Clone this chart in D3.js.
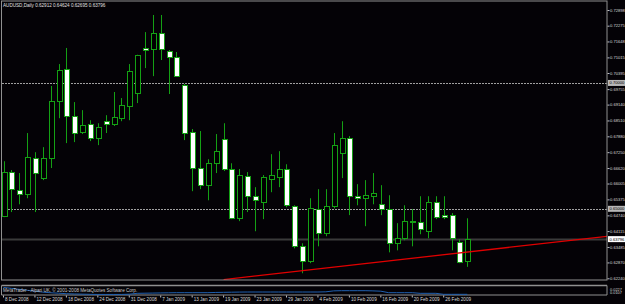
<!DOCTYPE html>
<html>
<head>
<meta charset="utf-8">
<script src="https://cdn.jsdelivr.net/npm/d3@7"></script>
<style>
  body { margin: 0; background: #000; }
  svg { display: block; }
  text { font-family: "Liberation Sans", Arial, sans-serif; }
</style>
</head>
<body>
<div id="chart"></div>
<script>
// AUDUSD daily bars, 8 Dec 2008 .. 3 Mar 2009
let barOpen = [0.6471, 0.6646, 0.6574, 0.6558, 0.6701, 0.6622, 0.6701, 0.6928, 0.7055, 0.6868,
  0.6805, 0.6837, 0.6781, 0.6848, 0.6837, 0.6860, 0.6908, 0.6960, 0.7139, 0.7135,
  0.7198, 0.7127, 0.7103, 0.6992, 0.6805, 0.6662, 0.6594, 0.6681, 0.6777, 0.6658,
  0.6463, 0.6630, 0.6550, 0.6526, 0.6618, 0.6626, 0.6658, 0.6510, 0.6351, 0.6292,
  0.6498, 0.6403, 0.6510, 0.6721, 0.6781, 0.6550, 0.6542, 0.6550, 0.6518, 0.6498,
  0.6363, 0.6383, 0.6451, 0.6447, 0.6411, 0.6526, 0.6475, 0.6475, 0.6367, 0.62912];
let barHigh = [0.6689, 0.6654, 0.6642, 0.6801, 0.6725, 0.6745, 0.6988, 0.7075, 0.7139, 0.6924,
  0.6892, 0.6852, 0.6840, 0.6872, 0.6964, 0.6940, 0.7075, 0.7112, 0.7202, 0.7270,
  0.7270, 0.7131, 0.7123, 0.6996, 0.6817, 0.6809, 0.6697, 0.6797, 0.6840, 0.6681,
  0.6658, 0.6646, 0.6586, 0.6634, 0.6717, 0.6729, 0.6677, 0.6514, 0.6363, 0.6542,
  0.6578, 0.6578, 0.6801, 0.6848, 0.6789, 0.6598, 0.6614, 0.6642, 0.6594, 0.6554,
  0.6443, 0.6514, 0.6499, 0.6550, 0.6550, 0.6550, 0.6550, 0.6483, 0.6379, 0.64624];
let barLow = [0.6467, 0.6487, 0.6518, 0.6542, 0.6487, 0.6614, 0.6662, 0.6860, 0.6761, 0.6765,
  0.6797, 0.6769, 0.6753, 0.6801, 0.6829, 0.6848, 0.6852, 0.6920, 0.7059, 0.7027,
  0.7091, 0.6956, 0.7047, 0.6773, 0.6570, 0.6578, 0.6534, 0.6642, 0.6650, 0.6459,
  0.6451, 0.6487, 0.6411, 0.6459, 0.6566, 0.6586, 0.6506, 0.6343, 0.6244, 0.6284,
  0.6351, 0.6391, 0.6502, 0.6622, 0.6475, 0.6514, 0.6431, 0.6518, 0.6475, 0.6327,
  0.6335, 0.6375, 0.6351, 0.6399, 0.6383, 0.6459, 0.6459, 0.6335, 0.6284, 0.62695];
let barClose = [0.6646, 0.6578, 0.6558, 0.6705, 0.6642, 0.6701, 0.6928, 0.7051, 0.6868, 0.6801,
  0.6833, 0.6781, 0.6825, 0.6837, 0.6864, 0.6912, 0.7047, 0.7111, 0.7131, 0.7198,
  0.7135, 0.7103, 0.7027, 0.6801, 0.6662, 0.6594, 0.6681, 0.6729, 0.6658, 0.6463,
  0.6634, 0.6550, 0.6534, 0.6626, 0.6634, 0.6658, 0.6514, 0.6351, 0.6292, 0.6502,
  0.6403, 0.6510, 0.6753, 0.6781, 0.6550, 0.6542, 0.6554, 0.6562, 0.6498, 0.6363,
  0.6383, 0.6451, 0.6447, 0.6419, 0.6526, 0.6467, 0.6467, 0.6383, 0.6288, 0.63796];

// lower window indicator
let indValues = [0.0220, 0.0205, 0.0190, 0.0175, 0.0160, 0.0145, 0.0135, 0.0128, 0.0120, 0.0116,
  0.0113, 0.0110, 0.0108, 0.0108, 0.0108, 0.0108, 0.0112, 0.0126, 0.0128, 0.0130,
  0.0132, 0.0134, 0.0136, 0.0136, 0.0136, 0.0136, 0.0136, 0.0140, 0.0142, 0.0144,
  0.0146, 0.0147, 0.0147, 0.0147, 0.0147, 0.0147, 0.0147, 0.0147, 0.0147, 0.0147,
  0.0147, 0.0150, 0.0165, 0.0168, 0.0168, 0.0168, 0.0168, 0.0165, 0.0160, 0.0136,
  0.0136, 0.0136, 0.0136, 0.0126, 0.0126, 0.0126, 0.0110, 0.0110, 0.0110, 0.0110];
let indTicks = [0.0227, 0.0107];

let dateLabels = ["8 Dec 2008", "12 Dec 2008", "18 Dec 2008", "24 Dec 2008", "31 Dec 2008",
  "7 Jan 2009", "13 Jan 2009", "19 Jan 2009", "23 Jan 2009", "29 Jan 2009",
  "4 Feb 2009", "10 Feb 2009", "16 Feb 2009", "20 Feb 2009", "26 Feb 2009"];
let priceTicks = [0.72898, 0.72275, 0.71648, 0.71015, 0.70395, 0.69755, 0.69140, 0.68510,
  0.67880, 0.67250, 0.66620, 0.66005, 0.65375, 0.64740, 0.64115, 0.63485, 0.62870, 0.62240];
let levelLines = [0.70000, 0.65000];
let bidPrice = 0.63796;
let trendBars = [28, 76.8];
let trendPrices = [0.6219, 0.6391];

let w = 625;
let h = 304;
let plotLeft = 2, plotRight = 607, plotTop = 1.5, plotBottom = 280;
let green = "#14a014";
let smallFont = 4.1;

let svg = d3.select("#chart")
  .append("svg")
  .attr("width", w)
  .attr("height", h)
  .style("background", "#040206");

let xScale = d3.scaleLinear()
  .domain([0, 59])
  .range([3.5, 467.3]);
let yScale = d3.scaleLinear()
  .domain([0.62240, 0.72898])
  .range([278.3, 10]);

svg.append("clipPath").attr("id", "plot")
  .append("rect")
  .attr("x", plotLeft).attr("y", plotTop)
  .attr("width", plotRight - plotLeft).attr("height", plotBottom - plotTop);

// horizontal level lines
svg.append("g").selectAll("line")
  .data(levelLines)
  .enter().append("line")
  .attr("x1", plotLeft).attr("x2", plotRight)
  .attr("y1", d => Math.round(yScale(d)) + 0.5)
  .attr("y2", d => Math.round(yScale(d)) + 0.5)
  .attr("stroke", "#a0a0a0")
  .attr("stroke-dasharray", "2,1");

// bid line
svg.append("line")
  .attr("x1", plotLeft).attr("x2", plotRight)
  .attr("y1", Math.round(yScale(bidPrice)) + 0.5)
  .attr("y2", Math.round(yScale(bidPrice)) + 0.5)
  .attr("stroke", "#3a3a3a")
  .attr("stroke-width", 2);

let bars = d3.range(barOpen.length);
let candles = svg.append("g").attr("clip-path", "url(#plot)");

candles.selectAll(".wick")
  .data(bars)
  .enter().append("line")
  .attr("class", "wick")
  .attr("x1", i => Math.round(xScale(i)) + 0.5)
  .attr("x2", i => Math.round(xScale(i)) + 0.5)
  .attr("y1", i => yScale(barHigh[i]))
  .attr("y2", i => yScale(barLow[i]))
  .attr("stroke", green);

candles.selectAll(".body")
  .data(bars)
  .enter().append("rect")
  .attr("class", "body")
  .attr("x", i => Math.round(xScale(i)) - 2 + 0.5)
  .attr("y", i => Math.round(yScale(Math.max(barOpen[i], barClose[i]))) + 0.5)
  .attr("width", 5)
  .attr("height", i => Math.max(1, Math.round(Math.abs(yScale(barOpen[i]) - yScale(barClose[i])))))
  .attr("fill", i => barClose[i] > barOpen[i] ? "#000" : "#fff")
  .attr("stroke", green);

// trend line, extends to the right edge
candles.append("line")
  .attr("x1", xScale(trendBars[0]))
  .attr("y1", yScale(trendPrices[0]))
  .attr("x2", xScale(trendBars[1]))
  .attr("y2", yScale(trendPrices[1]))
  .attr("stroke", "#e00000")
  .attr("stroke-width", 1.3);

// frame of the main window
svg.append("rect")
  .attr("x", plotLeft - 0.5).attr("y", plotTop - 0.5)
  .attr("width", plotRight - plotLeft + 0.5).attr("height", plotBottom - plotTop + 0.5)
  .attr("fill", "none")
  .attr("stroke", "#909090");

// price axis
let yAxis = d3.axisRight(yScale)
  .tickValues(priceTicks)
  .tickFormat(d3.format(".5f"))
  .tickSize(2)
  .tickPadding(0.5);
let yAxisGroup = svg.append("g")
  .attr("transform", "translate(" + (plotRight + 0.5) + ",0)")
  .call(yAxis);
yAxisGroup.select(".domain").remove();
yAxisGroup.selectAll("line").attr("stroke", "#c0c0c0");
yAxisGroup.selectAll("text")
  .attr("fill", "#d8d8d8")
  .attr("font-size", smallFont);

// price labels for the level lines and the bid
let tags = levelLines.map(d => ({ p: d, bg: "#b8b8b8" }));
tags.push({ p: bidPrice, bg: "#ffffff" });
let tagGroup = svg.append("g").selectAll("g")
  .data(tags)
  .enter().append("g")
  .attr("transform", d => "translate(" + (plotRight + 1) + "," + yScale(d.p) + ")");
tagGroup.append("rect")
  .attr("x", 0).attr("y", -3)
  .attr("width", w - plotRight - 1).attr("height", 6)
  .attr("fill", d => d.bg);
tagGroup.append("text")
  .attr("x", 1.5).attr("y", 1.5)
  .attr("font-size", smallFont)
  .attr("fill", "#000")
  .text(d => d.p.toFixed(5));

// header
svg.append("text")
  .attr("x", 3).attr("y", 7)
  .attr("font-size", 4.6)
  .attr("fill", "#e0e0e0")
  .text("AUDUSD,Daily  " + [barOpen[59], barHigh[59], barLow[59], barClose[59]].map(d => d.toFixed(5)).join(" "));

// indicator window
let indTop = 285.5, indBottom = 295;
svg.append("line")
  .attr("x1", plotLeft - 0.5).attr("x2", plotRight)
  .attr("y1", indTop).attr("y2", indTop)
  .attr("stroke", "#909090").attr("stroke-width", 1.5);
svg.append("line")
  .attr("x1", plotLeft - 0.5).attr("x2", plotLeft - 0.5)
  .attr("y1", indTop).attr("y2", indBottom)
  .attr("stroke", "#909090");
svg.append("line")
  .attr("x1", plotRight).attr("x2", plotRight)
  .attr("y1", indTop).attr("y2", indBottom)
  .attr("stroke", "#909090");
svg.append("line")
  .attr("x1", plotLeft - 0.5).attr("x2", plotRight)
  .attr("y1", indBottom).attr("y2", indBottom)
  .attr("stroke", "#909090");

let indScale = d3.scaleLinear()
  .domain([0.0107, 0.0227])
  .range([294.5, 287]);
svg.append("path")
  .datum(bars)
  .attr("d", d3.line().x(i => xScale(i)).y(i => indScale(indValues[i])))
  .attr("fill", "none")
  .attr("stroke", "#2060b0")
  .attr("stroke-width", 1);

svg.append("text")
  .attr("x", 3).attr("y", 291.5)
  .attr("font-size", 4.6)
  .attr("fill", "#c8c8c8")
  .text("MetaTrader - Alpari UK, \u00a9 2001-2008 MetaQuotes Software Corp.");

svg.append("g").selectAll("text")
  .data(indTicks)
  .enter().append("text")
  .attr("x", plotRight + 3)
  .attr("y", (d, i) => 290.5 + i * 3.6)
  .attr("font-size", 3.9)
  .attr("fill", "#d8d8d8")
  .text(d => d.toFixed(4));

// time axis
let xAxis = d3.axisBottom(xScale)
  .tickValues(dateLabels.map((d, i) => i * 4))
  .tickFormat((d, i) => dateLabels[i])
  .tickSize(2)
  .tickPadding(2);
let xAxisGroup = svg.append("g")
  .attr("transform", "translate(-0.5," + (indBottom + 0.5) + ")")
  .call(xAxis);
xAxisGroup.select(".domain").remove();
xAxisGroup.selectAll("line").attr("stroke", "#c0c0c0");
xAxisGroup.selectAll("text")
  .attr("fill", "#d8d8d8")
  .attr("font-size", 4.6)
  .attr("text-anchor", "start")
  .attr("dx", 1.5)
  .attr("dy", "0.4em");
</script>
</body>
</html>
